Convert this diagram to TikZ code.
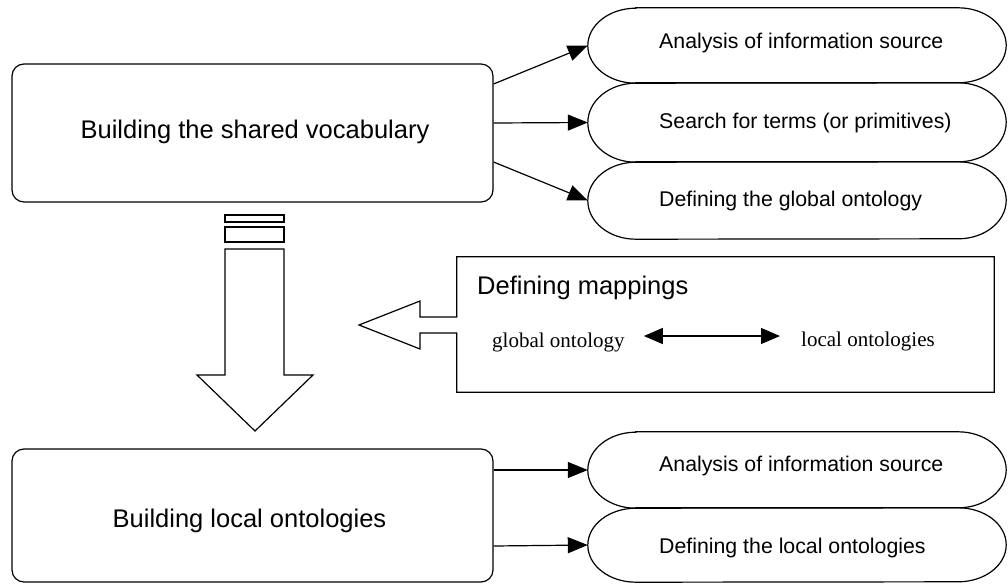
\documentclass[tikz,border=0pt]{standalone}
\usepackage{fontspec}
\setmainfont{Liberation Sans}
\newfontfamily\tnrfont{Liberation Serif}
\usetikzlibrary{arrows.meta,calc}
\newcommand\stadpath[2]{\draw[ln] ([xshift=48pt]#1.north west) -- ([xshift=-48pt]#1.north east) arc[start angle=90,end angle=-90,x radius=48pt,y radius=#2pt] -- ([xshift=48pt]#1.south west) arc[start angle=270,end angle=90,x radius=48pt,y radius=#2pt] -- cycle;}
\begin{document}
\begin{tikzpicture}[x=1pt,y=-1pt,
  ln/.style={line width=1.2pt,draw=black},
  boxnode/.style={ln,draw,rounded corners=12pt,inner sep=0pt,minimum width=481pt},
  stadnode/.style={inner sep=0pt,minimum width=418pt},
  biglbl/.style={font=\fontsize{25.5}{30}\selectfont,inner sep=0pt,anchor=base},
  smalllbl/.style={font=\fontsize{21.3}{26}\selectfont,inner sep=0pt,anchor=base west},
  seriflbl/.style={font=\fontsize{21}{25}\selectfont\tnrfont,inner sep=0pt,anchor=base west},
  conn/.style={ln,-{Triangle[length=20pt,width=16pt]}},
  dconn/.style={ln,{Triangle[length=19pt,width=16pt]}-{Triangle[length=19pt,width=16pt]}},
]
\useasboundingbox (0,0) rectangle (1008,583);
\fill[white] (0,0) rectangle (1008,583);

% main boxes
\node[boxnode,minimum height=138pt] (top) at (252.5,133) {};
\node[biglbl] (toplbl) at (255,138) {Building the shared vocabulary};
\node[boxnode,minimum height=133pt] (bot) at (252.5,515.5) {};
\node[biglbl] (botlbl) at (249.5,527) {Building local ontologies};

% stadiums
\node[stadnode,minimum height=75pt] (s1) at (797,45.5) {};
\node[stadnode,minimum height=79pt] (s2) at (797,122.5) {};
\node[stadnode,minimum height=77pt] (s3) at (797,200.5) {};
\node[stadnode,minimum height=76pt] (s4) at (797,470) {};
\node[stadnode,minimum height=74pt] (s5) at (797,545) {};
\stadpath{s1}{37.5}
\stadpath{s2}{39.5}
\stadpath{s3}{38.5}
\stadpath{s4}{38}
\stadpath{s5}{37}
\node[smalllbl] (t1) at (659,48.5) {Analysis of information source};
\node[smalllbl] (t2) at (659,128.3) {Search for terms (or primitives)};
\node[smalllbl] (t3) at (659,206) {Defining the global ontology};
\node[smalllbl] (t4) at (659,471.7) {Analysis of information source};
\node[smalllbl] (t5) at (659,553) {Defining the local ontologies};

% connectors
\draw[conn] ([yshift=49pt]top.east) -- (s1.west);
\draw[conn] ([yshift=10pt]top.east) -- (s2.west);
\draw[conn] ([yshift=-29pt]top.east) -- (s3.west);
\draw[conn] ([yshift=45.5pt]bot.east) -- (s4.west);
\draw[conn] ([yshift=-30.5pt]bot.east) -- (s5.west);

% down block arrow
\draw[ln] (225,215) rectangle (284,222);
\draw[ln] (225,227) rectangle (284,242);
\draw[ln] (225,249) -- (284,249) -- (284,375) -- (313,375) -- (255,431) -- (197,375) -- (225,375) -- cycle;

% mapping box with left block arrow
\node[inner sep=0pt,minimum width=537pt,minimum height=135pt] (map) at (725.5,324.5) {};
\draw[ln,line join=miter] (map.north west) -- (map.west |- 0,317) -- (420,317) -- (420,301) -- (359,325) -- (420,349) -- (420,333) -- (map.west |- 0,333) -- (map.south west) -- (map.south east) -- (map.north east) -- cycle;
\node[biglbl,anchor=base west] (maplbl) at (477,294) {Defining mappings};
\node[seriflbl] (gl) at (492,347) {global ontology};
\node[seriflbl] (lo) at (801,346) {local ontologies};
\draw[dconn,shorten <=19pt,shorten >=21pt] (gl.east |- 0,336) -- (lo.west |- 0,336);
\end{tikzpicture}
\end{document}
